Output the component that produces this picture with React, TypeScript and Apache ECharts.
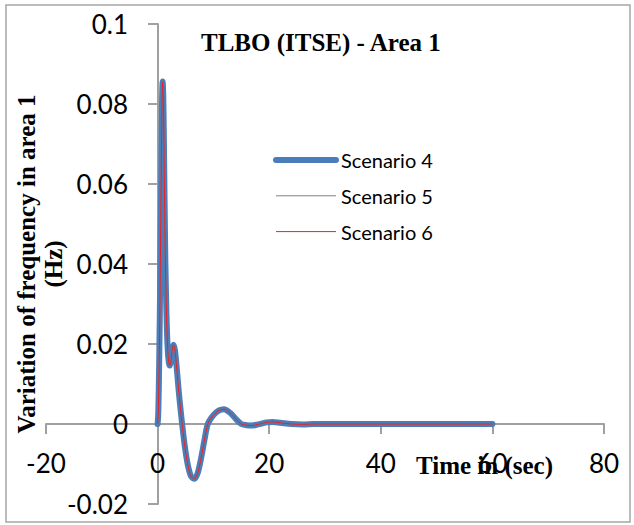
import React, { useEffect, useRef } from "react";
import * as echarts from "echarts";

// Time axis (s) of the sampled response
const timeSec = [
  0, 0.1, 0.2, 0.3, 0.4, 0.5, 0.6, 0.7, 0.8, 0.9, 1.0, 1.1, 1.2, 1.3, 1.4, 1.6, 1.8, 2.0, 2.2, 2.4,
  2.6, 2.85, 3.1, 3.4, 3.8, 4.2, 4.6, 5.0, 5.5, 6.0, 6.6, 7.2, 7.8, 8.4, 9.0, 10.0, 11.0, 11.9, 13.0,
  14.0, 15.0, 16.0, 16.8, 18.0, 19.5, 20.6, 22.0, 24.0, 26.0, 28.0, 30.0, 35.0, 40.0, 45.0, 50.0,
  55.0, 60.0,
];

// Frequency deviation in area 1 (Hz)
const scenario4 = [
  0, 0.002, 0.008, 0.017, 0.028, 0.041, 0.055, 0.069, 0.081, 0.0856, 0.083, 0.074, 0.062, 0.05,
  0.04, 0.027, 0.019, 0.0155, 0.0146, 0.0158, 0.0185, 0.0198, 0.0185, 0.0145, 0.008, 0.0025,
  -0.0025, -0.0068, -0.0108, -0.0131, -0.0137, -0.0122, -0.0085, -0.004, 0.0, 0.0022, 0.0034,
  0.0037, 0.0028, 0.0013, 0.0, -0.0003, -0.0004, -0.0001, 0.0004, 0.0005, 0.0003, 0.0, -0.0001,
  0, 0, 0, 0, 0, 0, 0, 0,
];
const scenario5 = [
  0, 0.002, 0.008, 0.017, 0.028, 0.041, 0.055, 0.069, 0.081, 0.0856, 0.083, 0.074, 0.062, 0.05,
  0.04, 0.027, 0.019, 0.0155, 0.0146, 0.0158, 0.0185, 0.0198, 0.0185, 0.0145, 0.008, 0.0025,
  -0.0025, -0.0068, -0.0108, -0.0131, -0.0137, -0.0122, -0.0085, -0.004, 0.0, 0.0022, 0.0034,
  0.0037, 0.0028, 0.0013, 0.0, -0.0003, -0.0004, -0.0001, 0.0004, 0.0005, 0.0003, 0.0, -0.0001,
  0, 0, 0, 0, 0, 0, 0, 0,
];
const scenario6 = [
  0, 0.002, 0.008, 0.017, 0.028, 0.041, 0.055, 0.069, 0.081, 0.0856, 0.083, 0.074, 0.062, 0.05,
  0.04, 0.027, 0.019, 0.0155, 0.0146, 0.0158, 0.0185, 0.0198, 0.0185, 0.0145, 0.008, 0.0025,
  -0.0025, -0.0068, -0.0108, -0.0131, -0.0137, -0.0122, -0.0085, -0.004, 0.0, 0.0022, 0.0034,
  0.0037, 0.0028, 0.0013, 0.0, -0.0003, -0.0004, -0.0001, 0.0004, 0.0005, 0.0003, 0.0, -0.0001,
  0, 0, 0, 0, 0, 0, 0, 0,
];

const seriesNames = ["Scenario 4", "Scenario 5", "Scenario 6"];
const chartTitle = "TLBO (ITSE) - Area 1";
const yAxisTitle = "Variation of frequency in area 1\n(Hz)";
const xAxisTitle = "Time in (sec)";

const SERIF = '"Liberation Serif", "Times New Roman", serif';
const SANS = 'Lato, "Liberation Sans", sans-serif';
const AXIS_GRAY = "#a0a0a0";
const BLUE = "#4a7ebb";
const GRAY = "#808080";
const RED = "#e8202a";

export default function App() {
  const ref = useRef<HTMLDivElement>(null);

  useEffect(() => {
    if (!ref.current) return;
    const chart = echarts.init(ref.current, null, { renderer: "svg" });
    const pair = (ys: number[]) => timeSec.map((t, i) => [t, ys[i]]);

    chart.setOption({
      animation: false,
      backgroundColor: "#ffffff",
      title: {
        text: chartTitle,
        left: 201,
        top: 30,
        padding: 0,
        textStyle: { fontFamily: SERIF, fontWeight: "bold", fontSize: 25, color: "#000" },
      },
      legend: {
        orient: "vertical",
        left: 273,
        top: 150,
        padding: 0,
        itemWidth: 60,
        itemHeight: 20,
        itemGap: 15.8,
        itemStyle: { opacity: 0 },
        data: [
          { name: seriesNames[0], lineStyle: { color: BLUE, width: 6, cap: "round" } },
          { name: seriesNames[1], lineStyle: { color: GRAY, width: 1 } },
          { name: seriesNames[2], lineStyle: { color: RED, width: 1 } },
        ],
        textStyle: { fontFamily: SANS, fontSize: 20, color: "#000" },
      },
      grid: {
        left: 46,
        top: 24,
        width: 558,
        height: 480,
        containLabel: false,
        outerBoundsMode: "none",
      },
      xAxis: {
        type: "value",
        position: "bottom",
        offset: -80,
        min: -20,
        max: 80,
        interval: 20,
        axisLine: { onZero: false, lineStyle: { color: AXIS_GRAY, width: 2 } },
        axisTick: { show: true, length: 10, lineStyle: { color: AXIS_GRAY, width: 2 } },
        axisLabel: { margin: 26, fontFamily: SANS, fontSize: 26, color: "#000" },
        splitLine: { show: false },
      },
      yAxis: {
        type: "value",
        position: "left",
        offset: -112,
        min: -0.02,
        max: 0.1,
        interval: 0.02,
        name: yAxisTitle,
        nameLocation: "middle",
        nameRotate: 90,
        nameGap: 91,
        nameMoveOverlap: false,
        nameTextStyle: {
          fontFamily: SERIF,
          fontWeight: "bold",
          fontSize: 25,
          lineHeight: 27,
          color: "#000",
        },
        axisLine: { onZero: false, lineStyle: { color: AXIS_GRAY, width: 2 } },
        axisTick: { show: true, length: 10, lineStyle: { color: AXIS_GRAY, width: 2 } },
        axisLabel: { margin: 30, fontFamily: SANS, fontSize: 26, color: "#000" },
        splitLine: { show: false },
      },
      graphic: [
        {
          type: "rect",
          shape: { x: 6, y: 5, width: 624, height: 517 },
          style: { fill: "none", stroke: "#a6a6a6", lineWidth: 1.5 },
          z: 0,
        },
        {
          type: "text",
          x: 416,
          y: 465,
          z: 100,
          style: {
            text: xAxisTitle,
            fontFamily: SERIF,
            fontWeight: "bold",
            fontSize: 25,
            fill: "#000",
            verticalAlign: "middle",
            align: "left",
          },
        },
      ],
      series: [
        {
          name: seriesNames[0],
          type: "line",
          data: pair(scenario4),
          symbol: "none",
          showSymbol: false,
          smooth: 0.3,
          color: BLUE,
          lineStyle: { color: BLUE, width: 6, cap: "round", join: "round" },
          z: 2,
        },
        {
          name: seriesNames[1],
          type: "line",
          data: pair(scenario5),
          symbol: "none",
          showSymbol: false,
          smooth: 0.3,
          color: GRAY,
          lineStyle: { color: GRAY, width: 1 },
          z: 3,
        },
        {
          name: seriesNames[2],
          type: "line",
          data: pair(scenario6),
          symbol: "none",
          showSymbol: false,
          smooth: 0.3,
          color: RED,
          lineStyle: { color: RED, width: 1 },
          z: 4,
        },
      ],
    });

    return () => chart.dispose();
  }, []);

  return (
    <div
      ref={ref}
      style={{ position: "fixed", left: 0, top: 0, width: 634, height: 525, background: "#fff" }}
    />
  );
}
